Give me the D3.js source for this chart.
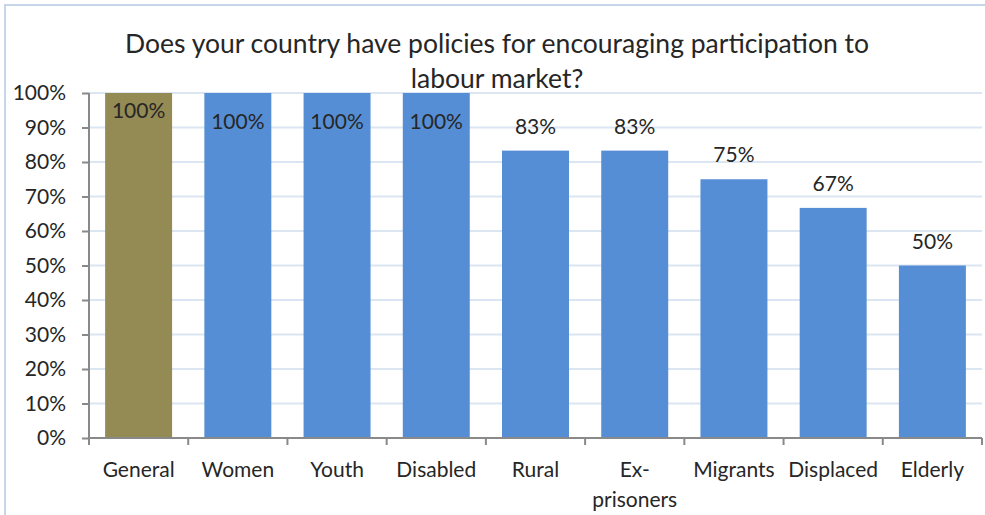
<!DOCTYPE html>
<html><head><meta charset="utf-8">
<script src="https://cdn.jsdelivr.net/npm/d3@7"></script>
<style>
html,body{margin:0;padding:0;background:#fff;}
svg{display:block;font-family:Lato,"Open Sans",sans-serif;}
</style></head>
<body>
<svg id="chart" width="985" height="515"></svg>
<script>
const categories = ["General","Women","Youth","Disabled","Rural","Ex-prisoners","Migrants","Displaced","Elderly"];
const categoryLines = [["General"],["Women"],["Youth"],["Disabled"],["Rural"],["Ex-","prisoners"],["Migrants"],["Displaced"],["Elderly"]];
const values = [1.00,1.00,1.00,1.00,0.833,0.833,0.75,0.667,0.50];
const valueLabels = ["100%","100%","100%","100%","83%","83%","75%","67%","50%"];
const yTicks = [0,0.1,0.2,0.3,0.4,0.5,0.6,0.7,0.8,0.9,1.0];
const titleLines = ["Does your country have policies for encouraging participation to","labour market?"];
const highlight = "General";

const svg = d3.select("#chart");
const W = 985, H = 515;
const m = {left:89, right:3, top:93, bottom:77};

// outer chart border
svg.append("rect").attr("x",5).attr("y",5).attr("width",1000).attr("height",520)
  .attr("fill","none").attr("stroke","#c6d5ea").attr("stroke-width",2);

const x = d3.scaleBand().domain(categories).range([m.left, W - m.right]).paddingInner(0.325).paddingOuter(0.1625);
const y = d3.scaleLinear().domain([0,1]).range([H - m.bottom, m.top]);

// gridlines
svg.append("g").selectAll("line").data(yTicks.filter(d=>d>0)).join("line")
  .attr("x1",m.left).attr("x2",W-m.right)
  .attr("y1",d=>y(d)).attr("y2",d=>y(d))
  .attr("stroke","#dce5f2").attr("stroke-width",2);

// bars
svg.append("g").selectAll("rect").data(values).join("rect")
  .attr("x",(d,i)=>x(categories[i]))
  .attr("y",d=>y(d))
  .attr("width",x.bandwidth())
  .attr("height",d=>y(0)-y(d))
  .attr("fill",(d,i)=>categories[i]===highlight ? "#948a54" : "#558ed5");

// y axis
const yAxis = d3.axisLeft(y).tickValues(yTicks).tickFormat(d3.format(".0%")).tickSize(7).tickPadding(16);
const gy = svg.append("g").attr("transform",`translate(${m.left},0)`).call(yAxis);
gy.selectAll("path,line").attr("stroke","#898989").attr("stroke-width",2);
gy.select(".domain").attr("d",`M0,${y(1)}V${y(0)}`);
gy.selectAll("text").attr("font-size",21).attr("fill","#262626").attr("font-family","Lato");

// x axis
const step = x.step();
const gx = svg.append("g").attr("transform",`translate(0,${y(0)})`);
gx.append("line").attr("x1",m.left).attr("x2",W-m.right).attr("y1",0).attr("y2",0)
  .attr("stroke","#898989").attr("stroke-width",2);
gx.selectAll("line.tick").data(d3.range(categories.length+1)).join("line").attr("class","tick")
  .attr("x1",i=>m.left + i*step).attr("x2",i=>m.left + i*step)
  .attr("y1",0).attr("y2",7).attr("stroke","#898989").attr("stroke-width",2);
const xl = gx.selectAll("text").data(categories).join("text")
  .attr("text-anchor","middle").attr("font-size",21).attr("fill","#262626")
  .attr("transform",d=>`translate(${x(d)+x.bandwidth()/2},39)`);
xl.each(function(d,i){
  d3.select(this).selectAll("tspan").data(categoryLines[i]).join("tspan")
    .attr("x",0).attr("dy",(t,j)=>j===0?0:30).text(t=>t);
});

// value labels
svg.append("g").selectAll("text").data(values).join("text")
  .attr("text-anchor","middle").attr("font-size",21).attr("fill","#262626")
  .attr("x",(d,i)=>x(categories[i])+x.bandwidth()/2)
  .attr("y",(d,i)=>{
    if (d >= 1) return categories[i]===highlight ? y(d)+25 : y(d)+36;
    return y(d)-17;
  })
  .text((d,i)=>valueLabels[i]);

// title
svg.append("g").selectAll("text").data(titleLines).join("text")
  .attr("text-anchor","middle").attr("x",497).attr("y",(d,i)=>53+i*35)
  .attr("font-size",26.5).attr("fill","#262626").text(d=>d);
</script>
</body></html>
